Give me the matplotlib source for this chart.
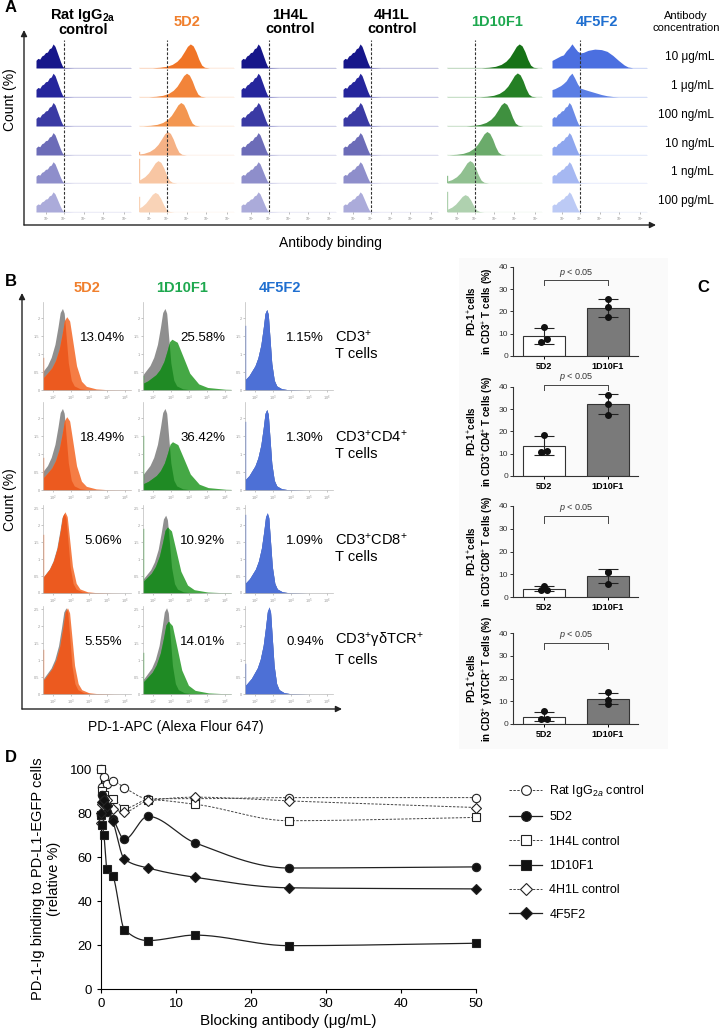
import numpy as np
import matplotlib.pyplot as plt
from matplotlib.lines import Line2D
from matplotlib.patches import Rectangle

plt.rcParams['font.family'] = ['Liberation Sans', 'DejaVu Sans']
plt.rcParams['mathtext.fontset'] = 'custom'
plt.rcParams['mathtext.rm'] = 'Liberation Sans'
plt.rcParams['mathtext.it'] = 'Liberation Sans:italic'
plt.rcParams['mathtext.bf'] = 'Liberation Sans:bold'

# ---------------- panel A data ----------------
a_titles = [r"Rat IgG$_{\mathbf{2a}}$" + "\ncontrol", "5D2", "1H4L\ncontrol", "4H1L\ncontrol", "1D10F1", "4F5F2"]
a_title_colors = ['black', '#f07f2c', 'black', 'black', '#1ea84f', '#1f6fd0']
a_conc = ["10 μg/mL", "1 μg/mL", "100 ng/mL", "10 ng/mL", "1 ng/mL", "100 pg/mL"]

# control histogram shape (fraction of axis width, relative count)
ctrl_x = [0.00, 0.02, 0.04, 0.06, 0.08, 0.10, 0.12, 0.14, 0.16, 0.18, 0.20, 0.22, 0.24, 0.26, 0.28, 0.30, 0.40, 1.00]
ctrl_y = [0.32, 0.40, 0.37, 0.50, 0.54, 0.64, 0.66, 0.80, 0.84, 1.00, 0.90, 0.68, 0.46, 0.24, 0.06, 0.02, 0.01, 0.01]
ctrl_h = [0.86, 0.85, 0.84, 0.80, 0.76, 0.72]

# positive peak shape (offset from peak, relative count)
pk_dx = [-0.40, -0.32, -0.25, -0.19, -0.14, -0.10, -0.06, -0.03, 0.00, 0.03, 0.06, 0.09, 0.12, 0.15, 0.20]
pk_y = [0.01, 0.03, 0.07, 0.15, 0.28, 0.45, 0.70, 0.90, 1.00, 0.92, 0.68, 0.36, 0.12, 0.03, 0.005]

a_5d2_peak = [0.54, 0.50, 0.44, 0.30, 0.20, 0.17]
a_5d2_h = [0.86, 0.85, 0.84, 0.84, 0.80, 0.70]
a_5d2_spike = [0, 0, 0, 0.12, 0.85, 0.55]
a_1d10_peak = [0.76, 0.74, 0.60, 0.42, 0.24, 0.19]
a_1d10_h = [0.86, 0.86, 0.84, 0.84, 0.80, 0.62]
a_1d10_spike = [0, 0, 0, 0, 0.25, 0.70]

a_4f5_x = [0, .03, .06, .09, .12, .15, .18, .21, .24, .27, .30, .33, .38, .45, .52, .58, .64, .70, .76, .80, .85, 1.0]
a_4f5_y1 = [.30, .36, .42, .48, .52, .68, .80, .96, .80, .66, .60, .62, .70, .75, .73, .66, .50, .30, .12, .04, .01, .01]
a_4f5_y2 = [.30, .34, .40, .46, .55, .66, .85, .97, .76, .52, .36, .32, .26, .18, .10, .05, .02, .01, .01, .01, .01, .01]

navy = ['#16168a', '#25259c', '#3a3aa4', '#6c6cb8', '#8e8ecb', '#ababda']
orange = ['#f07426', '#f2843a', '#f39650', '#f5b185', '#f8c6a3', '#f9d3b7']
green = ['#167216', '#248024', '#3f903f', '#6bab6b', '#90c090', '#afd1af']
blue = ['#4b6fe0', '#5b7ee4', '#6b8ae6', '#8ea6ee', '#a6b8f2', '#bccaf5']

# ---------------- panel B data ----------------
b_titles = ["5D2", "1D10F1", "4F5F2"]
b_rows = ["CD3$^{+}$\nT cells", "CD3$^{+}$CD4$^{+}$\nT cells", "CD3$^{+}$CD8$^{+}$\nT cells",
          "CD3$^{+}$γδTCR$^{+}$\nT cells"]
b_pct = [["13.04%", "18.49%", "5.06%", "5.55%"],
         ["25.58%", "36.42%", "10.92%", "14.01%"],
         ["1.15%", "1.30%", "1.09%", "0.94%"]]
b_tpl_dx = [-4.0, -3.0, -2.0, -1.5, -1.0, -0.6, -0.3, 0.0, 0.3, 0.6, 1.0, 1.5, 2.0, 3.0, 4.0, 8.0]
b_tpl_y = [0.10, 0.18, 0.30, 0.40, 0.56, 0.77, 0.95, 1.00, 0.94, 0.68, 0.33, 0.12, 0.05, 0.015, 0.006, 0.0]
b_gray_peak = [[2.52, 2.52, 2.62, 2.72], [2.66, 2.66, 2.70, 2.75], [2.65, 2.65, 2.68, 2.78]]
b_gray_h = [[2.28, 2.28, 2.35, 2.55], [2.28, 2.28, 2.30, 2.55], [2.25, 2.25, 2.35, 2.55]]
b_gray_w = [[0.42, 0.33], [0.42, 0.33], [0.33, 0.28]]
b_col_peak = [[2.76, 2.76, 2.66, 2.80], [3.05, 3.08, 2.80, 2.85], [2.65, 2.65, 2.68, 2.78]]
b_col_h = [[2.05, 2.05, 2.40, 2.55], [1.42, 1.35, 1.95, 2.15], [2.25, 2.25, 2.38, 2.58]]
b_col_lw = [0.42, 0.45, 0.33]
b_col_rw = [[0.55, 0.55, 0.42, 0.40], [1.0, 1.0, 0.75, 0.75], [0.28, 0.28, 0.28, 0.28]]
b_spike = [[0.9, 0.9, 1.7, 1.3], [0.4, 1.5, 1.9, 1.2], [1.8, 1.9, 2.3, 0.9]]
b_dark = ['#ec5a1f', '#1f8a24', '#4d70d6']
b_light = ['#f57d45', '#45a845', '#4d70d6']

# ---------------- panel C data ----------------
c_groups = ["5D2", "1D10F1"]
c_ylabels = ["PD-1$^{+}$cells\nin CD3$^{+}$ T cells (%)",
             "PD-1$^{+}$cells\nin CD3$^{+}$CD4$^{+}$ T cells (%)",
             "PD-1$^{+}$cells\nin CD3$^{+}$CD8$^{+}$ T cells (%)",
             "PD-1$^{+}$cells\nin CD3$^{+}$ γδTCR$^{+}$ T cells (%)"]
c_5d2 = [[13.0, 6.5, 7.5], [18.5, 11.0, 11.3], [5.0, 3.0, 3.0], [5.5, 2.0, 2.3]]
c_1d10 = [[25.5, 22.0, 17.5], [36.5, 32.5, 27.5], [11.0, 11.0, 5.5], [14.0, 10.5, 9.0]]
c_brk_top = [34.0, 41.0, 35.6, 35.7]
c_brk_leg = [32.0, 38.6, 32.7, 33.0]

# ---------------- panel D data ----------------
d_conc = [0, 0.195, 0.39, 0.78, 1.56, 3.125, 6.25, 12.5, 25, 50]
d_series = {
    "Rat IgG$_{2a}$ control": [100, 92, 96.5, 93, 94.5, 91.5, 86.5, 86.5, 87, 87],
    "5D2": [79, 88, 86, 80.5, 77.5, 68, 78.5, 66.5, 55, 55.5],
    "1H4L control": [100, 90, 88, 86, 86.5, 82, 86, 84, 76.5, 78],
    "1D10F1": [79, 74.5, 70, 54.5, 51.5, 27, 22, 24.5, 19.7, 20.8],
    "4H1L control": [75.5, 84, 86, 86, 82, 80.5, 85.5, 87.2, 85.5, 82.5],
    "4F5F2": [80, 85, 86, 83, 76.5, 59, 55, 50.8, 46, 45.5],
}
d_markers = ['o', 'o', 's', 's', 'D', 'D']
d_filled = [False, True, False, True, False, True]

# ---------------- layout helpers ----------------
W, H = 721, 1032
fig = plt.figure(figsize=(7.21, 10.32), dpi=100)
canvas = fig.add_axes([0, 0, 1, 1])
canvas.set_xlim(0, W)
canvas.set_ylim(H, 0)
canvas.axis('off')


def add_ax(x, y, w, h):
    return fig.add_axes([x / W, 1 - (y + h) / H, w / W, h / H])


def arrow(x0, y0, x1, y1):
    canvas.annotate("", xy=(x1, y1), xytext=(x0, y0),
                    arrowprops=dict(arrowstyle='-|>', color='#222', lw=1.0,
                                    mutation_scale=9, shrinkA=0, shrinkB=0))


def pchip(x, y, xs):
    x = np.asarray(x, float)
    y = np.asarray(y, float)
    h = np.diff(x)
    delta = np.diff(y) / h
    d = np.zeros_like(y)
    for k in range(1, len(x) - 1):
        if delta[k - 1] * delta[k] > 0:
            w1 = 2 * h[k] + h[k - 1]
            w2 = h[k] + 2 * h[k - 1]
            d[k] = (w1 + w2) / (w1 / delta[k - 1] + w2 / delta[k])
    d[0] = delta[0]
    d[-1] = delta[-1]
    idx = np.clip(np.searchsorted(x, xs) - 1, 0, len(x) - 2)
    t = (xs - x[idx]) / h[idx]
    h00 = 2 * t**3 - 3 * t**2 + 1
    h10 = t**3 - 2 * t**2 + t
    h01 = -2 * t**3 + 3 * t**2
    h11 = t**3 - t**2
    return h00 * y[idx] + h10 * h[idx] * d[idx] + h01 * y[idx + 1] + h11 * h[idx] * d[idx + 1]


def skew_profile(xs, peak, height, lw, rw):
    dx = np.where(xs < peak, (xs - peak) / lw, (xs - peak) / rw)
    return height * np.interp(dx, b_tpl_dx, b_tpl_y)


# ================= panel A =================
canvas.text(5, 8, "A", fontsize=12, fontweight='bold', va='center')
a_left = [36, 139, 241, 343, 447, 552]
a_base = [68, 97, 126, 155, 183, 212]
a_title_x = [83, 187, 290, 392, 497, 597]
for c in range(6):
    canvas.text(a_title_x[c], 22, a_titles[c], ha='center', va='center', fontsize=10.5,
                fontweight='bold', color=a_title_colors[c], linespacing=1.0)
canvas.text(686, 22, "Antibody\nconcentration", ha='center', va='center', fontsize=8, linespacing=1.15)
for r in range(6):
    canvas.text(714, a_base[r] - 11, a_conc[r], ha='right', va='center', fontsize=8.5)

xs = np.linspace(0, 1, 400)
for c in range(6):
    for r in range(6):
        ax = add_ax(a_left[c], a_base[r] - 28, 95, 28)
        ax.set_xlim(0, 1)
        ax.set_ylim(0, 1)
        spike = 0
        if c in (0, 2, 3):
            col = navy[r]
            ys = ctrl_h[r] * np.interp(xs, ctrl_x, ctrl_y)
        elif c == 1:
            col = orange[r]
            ys = a_5d2_h[r] * np.interp(xs - a_5d2_peak[r], pk_dx, pk_y)
            spike = a_5d2_spike[r]
        elif c == 4:
            col = green[r]
            ys = a_1d10_h[r] * np.interp(xs - a_1d10_peak[r], pk_dx, pk_y)
            spike = a_1d10_spike[r]
        else:
            col = blue[r]
            if r == 0:
                ys = 0.9 * np.interp(xs, a_4f5_x, a_4f5_y1)
            elif r == 1:
                ys = 0.88 * np.interp(xs, a_4f5_x, a_4f5_y2)
            else:
                ys = ctrl_h[r] * np.interp(xs, ctrl_x, ctrl_y)
        ax.fill_between(xs, 0, ys, color=col, lw=0)
        ax.plot([0, 1], [0.01, 0.01], color=col, lw=0.8)
        if spike:
            ax.plot([0.004, 0.004], [0, spike], color=col, lw=1.0)
        ax.axvline(0.29, color='#333', lw=0.8, ls=(0, (2.5, 1.5)))
        for s in ax.spines.values():
            s.set_visible(False)
        ax.set_yticks([])
        if r == 5:
            ax.set_xticks([0.11, 0.29, 0.5, 0.71, 0.93])
            ax.set_xticklabels(["10$^{1}$", "10$^{2}$", "10$^{3}$", "10$^{4}$", "10$^{5}$"], fontsize=2.5, color='#666')
            ax.tick_params(axis='x', length=1.5, width=0.4, pad=1, colors='#888')
        else:
            ax.set_xticks([])
        ax.patch.set_alpha(0)

arrow(24, 225, 24, 30)
arrow(24, 225, 656, 225)
canvas.text(330, 243, "Antibody binding", ha='center', va='center', fontsize=10)
canvas.text(10, 100, "Count (%)", ha='center', va='center', rotation=90, fontsize=10)

# ================= panel B =================
canvas.text(5, 281, "B", fontsize=12, fontweight='bold', va='center')
b_left = [43, 143, 245]
b_top = [302, 402, 505, 606]
b_title_x = [87, 182, 280]
for c in range(3):
    canvas.text(b_title_x[c], 288, b_titles[c], ha='center', va='center', fontsize=10.5,
                fontweight='bold', color=a_title_colors[[1, 4, 5][c]])
bx = np.linspace(1.43, 6.36, 500)
for c in range(3):
    for r in range(4):
        ax = add_ax(b_left[c], b_top[r], 88, 88)
        ax.set_xlim(1.43, 6.36)
        ax.set_ylim(0, 2.46 if r < 2 else 2.6)
        gy = skew_profile(bx, b_gray_peak[c][r], b_gray_h[c][r], b_gray_w[c][0], b_gray_w[c][1])
        ky = skew_profile(bx, b_col_peak[c][r], b_col_h[c][r], b_col_lw[c], b_col_rw[c][r])
        ax.fill_between(bx, 0, gy, color='#8f8f8f', lw=0)
        ax.fill_between(bx, 0, ky, color=b_light[c], lw=0)
        ax.fill_between(bx, 0, np.minimum(gy, ky), color=b_dark[c], lw=0)
        ax.plot([1.45, 1.45], [0, b_spike[c][r]], color=b_light[c], lw=1.0)
        ax.plot(bx, np.full_like(bx, 0.01), color=b_light[c], lw=0.6)
        ax.set_xticks([2, 3, 4, 5, 6])
        ax.set_xticklabels(["10$^{2}$", "10$^{3}$", "10$^{4}$", "10$^{5}$", "10$^{6}$"], fontsize=2.8, color='#555')
        if r < 2:
            ax.set_yticks([0, 0.5, 1, 1.5, 2])
            ax.set_yticklabels(["0", "0.5", "1", "1.5", "2"], fontsize=2.8, color='#555')
        else:
            ax.set_yticks([0, 0.5, 1, 1.5, 2, 2.5])
            ax.set_yticklabels(["0", "0.5", "1", "1.5", "2", "2.5"], fontsize=2.8, color='#555')
        ax.tick_params(length=1.5, width=0.4, pad=1, colors='#999')
        for s in ['top', 'right']:
            ax.spines[s].set_visible(False)
        for s in ['left', 'bottom']:
            ax.spines[s].set_color('#bbb')
            ax.spines[s].set_linewidth(0.5)
        ax.patch.set_alpha(0)
        canvas.text(b_left[c] + 60, b_top[r] + 36, b_pct[c][r], ha='center', va='center', fontsize=9.5)
for r in range(4):
    canvas.text(335, b_top[r] + 43, b_rows[r], ha='left', va='center', fontsize=10.5, linespacing=1.25)

arrow(22, 709, 22, 293)
arrow(22, 709, 342, 709)
canvas.text(10, 500, "Count (%)", ha='center', va='center', rotation=90, fontsize=10)
canvas.text(176, 727, "PD-1-APC (Alexa Flour 647)", ha='center', va='center', fontsize=10)

# ================= panel C =================
canvas.add_patch(Rectangle((459, 258), 209, 491, color='#fafafa', lw=0))
canvas.text(703, 288, "C", fontsize=12, fontweight='bold', va='center', ha='center')
c_top = [267, 387, 506, 633]
c_bot = [356, 476, 597, 724]
jit = [0.0, -0.05, 0.05]
for k in range(4):
    ax = add_ax(513, c_top[k], 125, c_bot[k] - c_top[k])
    ax.set_facecolor('none')
    vals = [np.array(c_5d2[k]), np.array(c_1d10[k])]
    means = [v.mean() for v in vals]
    sds = [v.std(ddof=1) for v in vals]
    ax.bar([0, 1], means, width=0.66, color=['white', '#7a7a7a'], edgecolor='#333', lw=0.8, zorder=2)
    ax.errorbar([0, 1], means, yerr=sds, fmt='none', ecolor='#222', elinewidth=0.8, capsize=7,
                capthick=0.8, zorder=3)
    for i, v in enumerate(vals):
        jx = [i + j if i == 0 else i for j in jit]
        ax.plot(jx, v, 'o', color='#111', ms=4, zorder=4)
    ax.plot([0, 0, 1, 1], [c_brk_leg[k], c_brk_top[k], c_brk_top[k], c_brk_leg[k]],
            color='#444', lw=0.7, clip_on=False)
    ax.text(0.5, c_brk_top[k] + 0.8, "$p$ < 0.05", ha='center', va='bottom', fontsize=6.5, color='#333')
    ax.set_xlim(-0.484, 1.47)
    ax.set_ylim(0, 40)
    ax.set_yticks([0, 10, 20, 30, 40])
    ax.tick_params(axis='y', labelsize=6, length=2, width=0.7, pad=1.5, colors='#333')
    ax.set_xticks([0, 1])
    ax.set_xticklabels(c_groups, fontsize=6.5, fontweight='bold')
    ax.tick_params(axis='x', length=2, width=0.7, pad=2)
    for s in ['top', 'right']:
        ax.spines[s].set_visible(False)
    for s in ['left', 'bottom']:
        ax.spines[s].set_linewidth(0.8)
        ax.spines[s].set_color('#333')
    ax.set_ylabel(c_ylabels[k], fontsize=7, fontweight='bold', labelpad=2, linespacing=1.15)

# ================= panel D =================
canvas.text(5, 757, "D", fontsize=12, fontweight='bold', va='center')
ax = add_ax(101, 769, 375, 220)
ax.set_xlim(0, 50)
ax.set_ylim(0, 100)
fine = np.linspace(0, 50, 1500)
handles = []
for i, (name, vals) in enumerate(d_series.items()):
    ls = '-' if d_filled[i] else (0, (2.5, 1.5))
    lc = '#222' if d_filled[i] else '#444'
    lw = 0.9 if d_filled[i] else 0.7
    ax.plot(fine, pchip(d_conc, vals, fine), color=lc, lw=lw, ls=ls, zorder=2)
    fc = '#111' if d_filled[i] else 'white'
    ms = 6 if d_markers[i] != 'D' else 5
    ax.plot(d_conc, vals, d_markers[i], mfc=fc, mec='#222', mew=0.8, ms=ms, ls='none',
            clip_on=False, zorder=3 + d_filled[i])
    handles.append(Line2D([], [], color=lc, lw=lw, ls=ls, marker=d_markers[i], mfc=fc,
                          mec='#222', mew=0.8, ms=ms + 1))
ax.set_xticks([0, 10, 20, 30, 40, 50])
ax.set_yticks([0, 20, 40, 60, 80, 100])
ax.tick_params(labelsize=9.5, length=3, width=0.8)
for s in ['top', 'right']:
    ax.spines[s].set_visible(False)
ax.set_xlabel("Blocking antibody (μg/mL)", fontsize=11, labelpad=3)
ax.set_ylabel("PD-1-Ig binding to PD-L1-EGFP cells\n(relative %)", fontsize=10.5, labelpad=6)
fig.legend(handles, list(d_series.keys()), loc='upper left', bbox_to_anchor=(498 / W, 1 - 772 / H),
           frameon=False, fontsize=9, handlelength=2.6, labelspacing=0.98, handletextpad=0.6)

fig.savefig('out.png', dpi=100)
